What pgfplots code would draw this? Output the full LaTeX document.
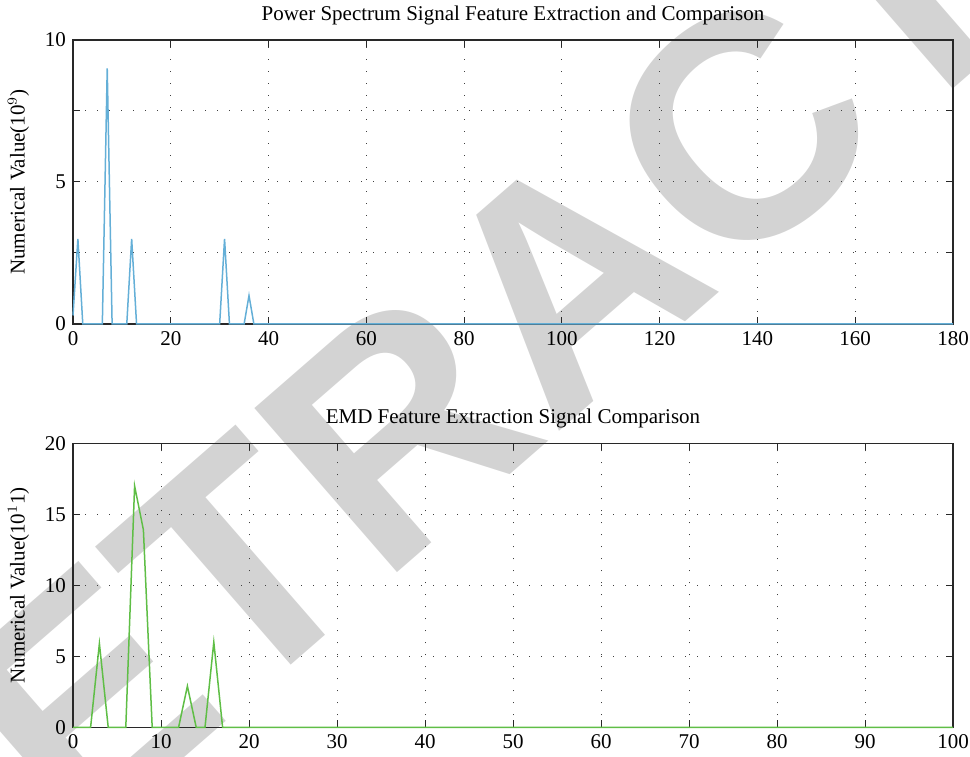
\documentclass[border=0pt]{standalone}
\usepackage{fontspec}
\setmainfont{Liberation Serif}
\newfontfamily\wmfont{Liberation Sans}[BoldFont={Liberation Sans Bold}]
\usepackage{pgfplots}
\pgfplotsset{compat=1.18}
\definecolor{specblue}{RGB}{100,175,215}
\definecolor{emdgreen}{RGB}{95,190,70}
\definecolor{axgray}{RGB}{40,40,40}
\definecolor{wmgray}{RGB}{211,211,211}
\pgfplotsset{
  myaxis/.style={
    width=440pt, height=142pt, scale only axis,
    anchor=south west,
    axis line style={axgray, line width=0.6pt},
    tick style={axgray, line width=0.5pt},
    tick align=inside,
    xtick pos=both, ytick pos=both,
    major tick length=3.5pt,
    grid=major,
    major grid style={black!75, line width=0.5pt, dash pattern=on 0.5pt off 5.5pt},
    /pgf/number format/assume math mode=true,
    tick label style={font=\fontsize{10.5}{12}\selectfont},
    label style={font=\fontsize{10.5}{12}\selectfont},
    title style={font=\fontsize{10.5}{12}\selectfont, yshift=-2pt},
    ylabel style={yshift=1pt},
    clip=false,
  }
}
\begin{document}
\begin{tikzpicture}
\useasboundingbox (0,0) rectangle (485pt,378pt);
% watermark
\node[rotate=41, text=wmgray, font=\wmfont\bfseries\fontsize{158}{158}\selectfont, inner sep=0pt] at (284pt,238pt) {RETRACTED};

\begin{axis}[myaxis, at={(36.5pt,216pt)},
  xmin=0, xmax=180, ymin=0, ymax=10,
  xtick={0,20,...,180},
  ytick={0,2.5,5,7.5,10}, yticklabels={0,,5,,10},
  title={Power Spectrum Signal Feature Extraction and Comparison},
  ylabel={Numerical Value(10$^{9}$)},
]
\addplot[specblue, line width=0.75pt] coordinates {
(0,0.3) (1,3) (2,0) (6,0) (7,9) (8,0) (11,0) (12,3) (13,0)
(30,0) (31,3) (32,0) (35,0) (36,1) (37,0) (180,0)
};
\end{axis}

\begin{axis}[myaxis, at={(36.5pt,14.35pt)},
  xmin=0, xmax=100, ymin=0, ymax=20,
  xtick={0,10,...,100},
  ytick={0,5,10,15,20},
  title={EMD Feature Extraction Signal Comparison},
  ylabel={Numerical Value(10$^{1}$1)},
]
\addplot[emdgreen, line width=0.75pt] coordinates {
(0,0) (2,0) (3,5.9) (4,0) (6,0) (7,17) (8,13.9) (9,0) (12,0)
(13,2.9) (14,0) (15,0) (16,6) (17,0) (100,0)
};
\end{axis}
\end{tikzpicture}
\end{document}
